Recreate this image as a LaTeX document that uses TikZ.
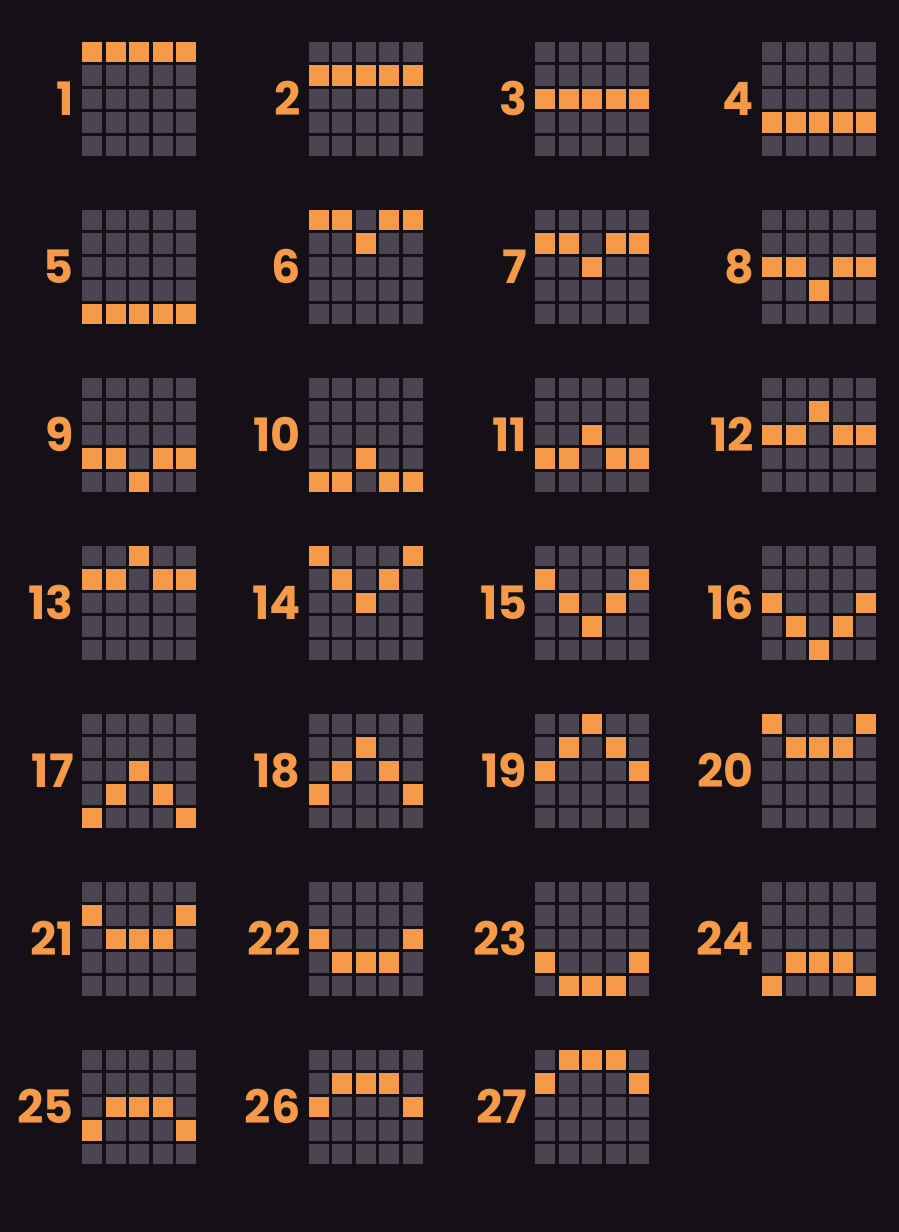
\documentclass[tikz,border=0pt]{standalone}
\usepackage{fontspec}
\newfontfamily\numfont{Poppins}
\definecolor{bg}{HTML}{151015}
\definecolor{cellgray}{HTML}{4B4551}
\definecolor{cellorange}{HTML}{F59A48}
\begin{document}
\begin{tikzpicture}[x=1pt,y=-1pt,
  cell/.style={fill=cellgray},
  hit/.style={fill=cellorange},
  num/.style={text=cellorange, font=\numfont\bfseries\fontsize{46}{46}\selectfont, anchor=east, inner sep=0pt}]
\fill[bg] (0,0) rectangle (899,1232);
\useasboundingbox (0,0) rectangle (899,1232);
\foreach \n/\pa/\pb/\pc/\pd/\pe in {
  1/0/0/0/0/0, 2/1/1/1/1/1, 3/2/2/2/2/2, 4/3/3/3/3/3,
  5/4/4/4/4/4, 6/0/0/1/0/0, 7/1/1/2/1/1, 8/2/2/3/2/2,
  9/3/3/4/3/3, 10/4/4/3/4/4, 11/3/3/2/3/3, 12/2/2/1/2/2,
  13/1/1/0/1/1, 14/0/1/2/1/0, 15/1/2/3/2/1, 16/2/3/4/3/2,
  17/4/3/2/3/4, 18/3/2/1/2/3, 19/2/1/0/1/2, 20/0/1/1/1/0,
  21/1/2/2/2/1, 22/2/3/3/3/2, 23/3/4/4/4/3, 24/4/3/3/3/4,
  25/3/2/2/2/3, 26/2/1/1/1/2, 27/1/0/0/0/1} {
  \pgfmathtruncatemacro\idx{\n-1}
  \pgfmathtruncatemacro\gcol{mod(\idx,4)}
  \pgfmathtruncatemacro\grow{div(\idx,4)}
  \pgfmathsetmacro\gx{82+226.7*\gcol}
  \pgfmathsetmacro\gy{41.5+168*\grow}
  \node[num] (lab\n) at (\gx-8, \gy+57) {\n};
  \foreach \rr in {0,...,4} {
    \foreach \cc in {0,...,4} {
      \fill[cell] (\gx+23.5*\cc, \gy+23.5*\rr) rectangle ++(20,20.5);
    }
  }
  \fill[hit] (\gx+23.5*0, \gy+23.5*\pa) rectangle ++(20,20.5);
  \fill[hit] (\gx+23.5*1, \gy+23.5*\pb) rectangle ++(20,20.5);
  \fill[hit] (\gx+23.5*2, \gy+23.5*\pc) rectangle ++(20,20.5);
  \fill[hit] (\gx+23.5*3, \gy+23.5*\pd) rectangle ++(20,20.5);
  \fill[hit] (\gx+23.5*4, \gy+23.5*\pe) rectangle ++(20,20.5);
}
\end{tikzpicture}
\end{document}
